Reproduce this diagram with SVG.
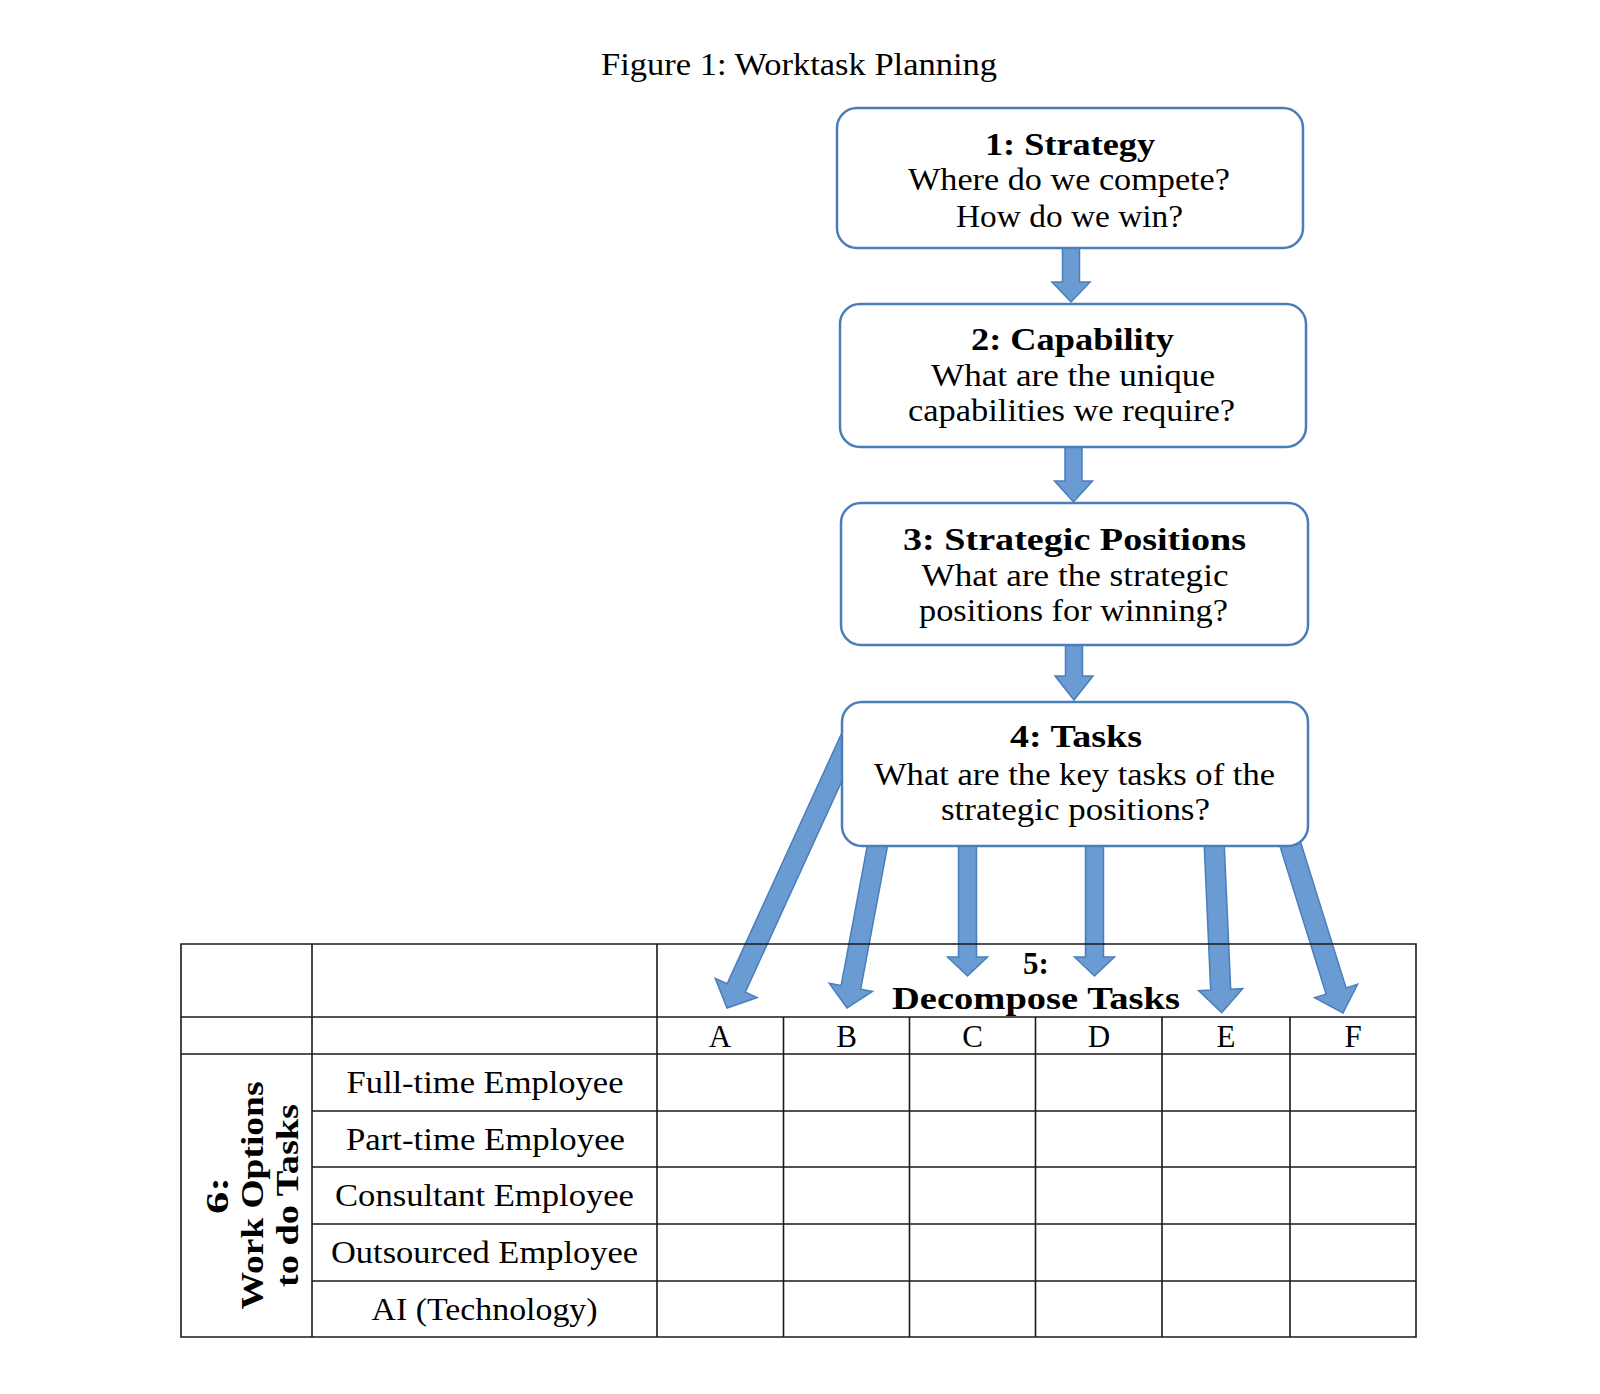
<svg xmlns="http://www.w3.org/2000/svg" width="1600" height="1394" viewBox="0 0 1600 1394">
<style>
.bg{fill:#fff}
.box{fill:#fff;stroke:#4a7ebb;stroke-width:2.5}
.arrow{fill:#6a9bd2;stroke:#4a7ebb;stroke-width:1.5;stroke-linejoin:miter}
.t{font-family:"Liberation Serif","Times New Roman",serif;font-size:31px;fill:#000;text-anchor:middle}
.b{font-weight:bold}
.grid{stroke:#1a1a1a;stroke-width:1.6;fill:none}
</style>
<rect class="bg" x="0" y="0" width="1600" height="1394"/>
<g id="title">
<text class="t" x="799" y="75" font-size="32" textLength="396" lengthAdjust="spacingAndGlyphs">Figure 1: Worktask Planning</text>
</g>
<g id="connectors">
<polygon class="arrow" points="1062.5,246 1062.5,282 1052,282 1071,302 1090,282 1079.5,282 1079.5,246"/>
<polygon class="arrow" points="1065,445 1065,481 1054.5,481 1073.5,502 1092.5,481 1082,481 1082,445"/>
<polygon class="arrow" points="1065.5,643 1065.5,676 1055,676 1074,700 1093,676 1082.5,676 1082.5,643"/>
<polygon class="arrow" points="846.9,721.8 727.1,983.8 715.3,978.4 727,1008 757.1,997.6 745.3,992.2 865.1,730.2"/>
<polygon class="arrow" points="876.2,798.2 841.1,985.6 829.3,983.3 847,1008 872.5,991.4 860.7,989.2 895.8,801.8"/>
<polygon class="arrow" points="958.5,800 958.5,957 947.5,957 967.5,976 987.5,957 976.5,957 976.5,800"/>
<polygon class="arrow" points="1085.5,800 1085.5,957 1074.5,957 1094.5,976 1114.5,957 1103.5,957 1103.5,800"/>
<polygon class="arrow" points="1202.2,800.4 1210.7,990.1 1198.7,990.7 1221.7,1012.7 1242.7,988.7 1230.7,989.3 1222.2,799.6"/>
<polygon class="arrow" points="1266.5,803.1 1326.1,994.1 1314.6,997.7 1343,1013 1357.6,984.3 1346.1,987.9 1286.5,796.9"/>
</g>
<g id="node1">
<rect class="box" x="837" y="108" width="466" height="140" rx="20"/>
<text class="t b" x="1070" y="155" textLength="170" lengthAdjust="spacingAndGlyphs">1: Strategy</text>
<text class="t" x="1069" y="190" textLength="322" lengthAdjust="spacingAndGlyphs">Where do we compete?</text>
<text class="t" x="1069.5" y="227" textLength="227" lengthAdjust="spacingAndGlyphs">How do we win?</text>
</g>
<g id="node2">
<rect class="box" x="840" y="304" width="466" height="143" rx="20"/>
<text class="t b" x="1072.5" y="350" textLength="203" lengthAdjust="spacingAndGlyphs">2: Capability</text>
<text class="t" x="1073" y="386" textLength="284" lengthAdjust="spacingAndGlyphs">What are the unique</text>
<text class="t" x="1071.5" y="421" textLength="327" lengthAdjust="spacingAndGlyphs">capabilities we require?</text>
</g>
<g id="node3">
<rect class="box" x="841" y="503" width="467" height="142" rx="20"/>
<text class="t b" x="1074.5" y="550" textLength="343" lengthAdjust="spacingAndGlyphs">3: Strategic Positions</text>
<text class="t" x="1075" y="586" textLength="307" lengthAdjust="spacingAndGlyphs">What are the strategic</text>
<text class="t" x="1073.5" y="621" textLength="309" lengthAdjust="spacingAndGlyphs">positions for winning?</text>
</g>
<g id="node4">
<rect class="box" x="842" y="702" width="466" height="144" rx="20"/>
<text class="t b" x="1076" y="747" textLength="132" lengthAdjust="spacingAndGlyphs">4: Tasks</text>
<text class="t" x="1074.5" y="785" textLength="401" lengthAdjust="spacingAndGlyphs">What are the key tasks of the</text>
<text class="t" x="1075.5" y="820" textLength="269" lengthAdjust="spacingAndGlyphs">strategic positions?</text>
</g>
<g id="table">
<path class="grid" d="M181,944 H1416 V1337 H181 Z M181,1017 H1416 M181,1054 H1416 M312,1111 H1416 M312,1167 H1416 M312,1224 H1416 M312,1281 H1416 M312,944 V1337 M657,944 V1337 M783.5,1017 V1337 M909.5,1017 V1337 M1035.5,1017 V1337 M1162,1017 V1337 M1290,1017 V1337"/>
<text class="t b" x="1036" y="974">5:</text>
<text class="t b" x="1036" y="1009" textLength="288" lengthAdjust="spacingAndGlyphs">Decompose Tasks</text>
<text class="t" x="720" y="1047" font-size="30">A</text>
<text class="t" x="846.5" y="1047" font-size="30">B</text>
<text class="t" x="972.5" y="1047" font-size="30">C</text>
<text class="t" x="1099" y="1047" font-size="30">D</text>
<text class="t" x="1226" y="1047" font-size="30">E</text>
<text class="t" x="1353" y="1047" font-size="30">F</text>
<text class="t" x="485" y="1093" textLength="277" lengthAdjust="spacingAndGlyphs">Full-time Employee</text>
<text class="t" x="485.5" y="1150" textLength="279" lengthAdjust="spacingAndGlyphs">Part-time Employee</text>
<text class="t" x="484.5" y="1206" textLength="299" lengthAdjust="spacingAndGlyphs">Consultant Employee</text>
<text class="t" x="484.5" y="1263" textLength="307" lengthAdjust="spacingAndGlyphs">Outsourced Employee</text>
<text class="t" x="484.5" y="1320" textLength="226" lengthAdjust="spacingAndGlyphs">AI (Technology)</text>
<g transform="translate(0,1195.5) rotate(-90)">
<text class="t b" x="0" y="228" font-size="32" textLength="37" lengthAdjust="spacingAndGlyphs">6:</text>
<text class="t b" x="0" y="263" font-size="32" textLength="228" lengthAdjust="spacingAndGlyphs">Work Options</text>
<text class="t b" x="0" y="298" font-size="32" textLength="183" lengthAdjust="spacingAndGlyphs">to do Tasks</text>
</g>
</g>
</svg>
